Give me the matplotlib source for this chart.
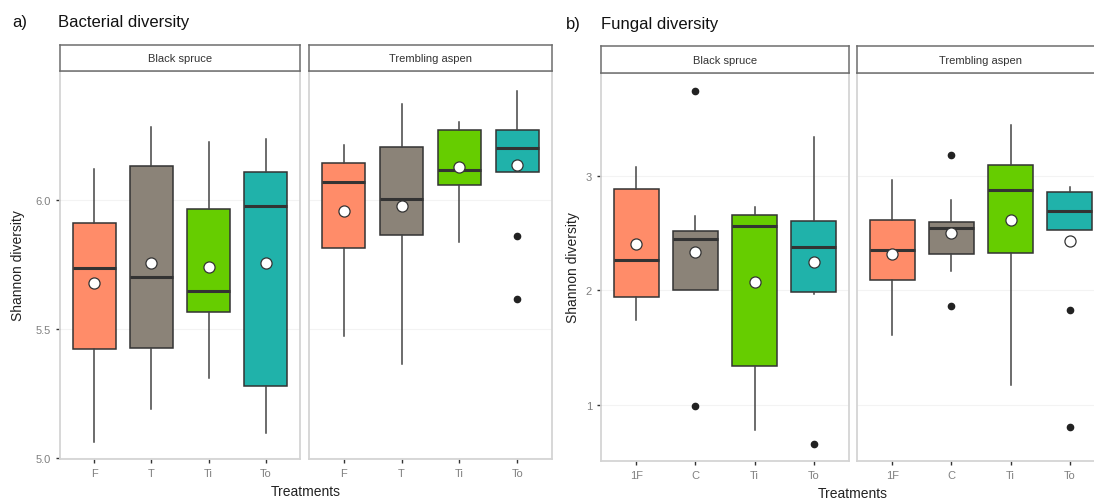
import matplotlib
matplotlib.use('Agg')
import matplotlib.pyplot as plt

plt.rcParams['font.family'] = ['Liberation Sans', 'DejaVu Sans']

# ---- data ----
treat_a = ['F', 'T', 'Ti', 'To']
treat_b = ['1F', 'C', 'Ti', 'To']
colors = ['#FF8C69', '#8B8378', '#66CD00', '#20B2AA']

bact_spruce_whislo = [5.065, 5.19, 5.31, 5.10]
bact_spruce_q1 = [5.423, 5.427, 5.565, 5.281]
bact_spruce_med = [5.738, 5.70, 5.646, 5.977]
bact_spruce_q3 = [5.91, 6.131, 5.965, 6.108]
bact_spruce_whishi = [6.119, 6.281, 6.223, 6.235]
bact_spruce_mean = [5.677, 5.757, 5.742, 5.754]
bact_spruce_out = [[], [], [], []]

bact_aspen_whislo = [5.473, 5.365, 5.838, 6.108]
bact_aspen_q1 = [5.815, 5.865, 6.058, 6.108]
bact_aspen_med = [6.069, 6.004, 6.115, 6.20]
bact_aspen_q3 = [6.142, 6.204, 6.27, 6.27]
bact_aspen_whishi = [6.212, 6.369, 6.30, 6.42]
bact_aspen_mean = [5.958, 5.977, 6.127, 6.135]
bact_aspen_out = [[], [], [], [5.862, 5.615]]

fung_spruce_whislo = [1.745, 2.0, 0.78, 1.97]
fung_spruce_q1 = [1.945, 2.0, 1.34, 1.99]
fung_spruce_med = [2.262, 2.45, 2.56, 2.38]
fung_spruce_q3 = [2.886, 2.52, 2.66, 2.61]
fung_spruce_whishi = [3.08, 2.65, 2.73, 3.34]
fung_spruce_mean = [2.41, 2.34, 2.07, 2.25]
fung_spruce_out = [[], [3.74, 0.99], [], [0.66]]

fung_aspen_whislo = [1.61, 2.17, 1.17, 2.53]
fung_aspen_q1 = [2.09, 2.316, 2.33, 2.53]
fung_aspen_med = [2.35, 2.55, 2.88, 2.69]
fung_aspen_q3 = [2.616, 2.60, 3.10, 2.86]
fung_aspen_whishi = [2.965, 2.79, 3.45, 2.90]
fung_aspen_mean = [2.32, 2.50, 2.62, 2.43]
fung_aspen_out = [[], [3.18, 1.86], [], [1.83, 0.81]]

W, H = 1094, 502
fig = plt.figure(figsize=(W / 100, H / 100), dpi=100)


def rect(x0, x1, y0, y1):
    # pixel box (top-left origin) -> figure fraction
    return [x0 / W, 1 - y1 / H, (x1 - x0) / W, (y1 - y0) / H]


def make_stats(labels, whislo, q1, med, q3, whishi, mean, out):
    stats = []
    for i in range(len(labels)):
        stats.append(dict(label=labels[i], whislo=whislo[i], q1=q1[i], med=med[i],
                          q3=q3[i], whishi=whishi[i], mean=mean[i], fliers=out[i]))
    return stats


def draw_panel(box, strip_box, stats, strip_label, ylim, yticks, yfmt, show_y):
    ax = fig.add_axes(rect(*box))
    bp = ax.bxp(stats, positions=[1, 2, 3, 4], widths=0.75, patch_artist=True,
                showmeans=True, showcaps=False,
                boxprops=dict(edgecolor='#333333', linewidth=1.1),
                whiskerprops=dict(color='#444444', linewidth=1.1),
                medianprops=dict(color='#333333', linewidth=2.2),
                flierprops=dict(marker='o', markerfacecolor='#222222',
                                markeredgecolor='#222222', markersize=4.5),
                meanprops=dict(marker='o', markerfacecolor='white',
                               markeredgecolor='#333333', markersize=8,
                               markeredgewidth=0.9))
    for patch, c in zip(bp['boxes'], colors):
        patch.set_facecolor(c)
    ax.set_xlim(0.4, 4.6)
    ax.set_ylim(*ylim)
    ax.set_yticks(yticks)
    for s in ax.spines.values():
        s.set_color('#d4d4d4')
        s.set_linewidth(1.3)
    ax.tick_params(axis='both', colors='#333333', labelcolor='#808080',
                   labelsize=8, length=3, width=1)
    if show_y:
        ax.set_yticklabels([yfmt.format(v) for v in yticks])
    else:
        ax.tick_params(axis='y', left=False, labelleft=False)
    ax.yaxis.grid(True, color='#f3f3f3', linewidth=0.8)
    ax.set_axisbelow(True)

    sax = fig.add_axes(rect(*strip_box))
    sax.set_xticks([])
    sax.set_yticks([])
    for s in sax.spines.values():
        s.set_color('#6e6e6e')
        s.set_linewidth(1.1)
    sax.text(0.5, 0.5, strip_label, ha='center', va='center', fontsize=8,
             color='#333333', transform=sax.transAxes)
    return ax


a_spruce = make_stats(treat_a, bact_spruce_whislo, bact_spruce_q1, bact_spruce_med,
                      bact_spruce_q3, bact_spruce_whishi, bact_spruce_mean, bact_spruce_out)
a_aspen = make_stats(treat_a, bact_aspen_whislo, bact_aspen_q1, bact_aspen_med,
                     bact_aspen_q3, bact_aspen_whishi, bact_aspen_mean, bact_aspen_out)
b_spruce = make_stats(treat_b, fung_spruce_whislo, fung_spruce_q1, fung_spruce_med,
                      fung_spruce_q3, fung_spruce_whishi, fung_spruce_mean, fung_spruce_out)
b_aspen = make_stats(treat_b, fung_aspen_whislo, fung_aspen_q1, fung_aspen_med,
                     fung_aspen_q3, fung_aspen_whishi, fung_aspen_mean, fung_aspen_out)

ylim_a = (4.998, 6.498)
ylim_b = (0.51, 3.90)

draw_panel((60, 300, 72, 460), (60, 300, 46, 72), a_spruce, 'Black spruce',
           ylim_a, [5.0, 5.5, 6.0], '{:.1f}', True)
draw_panel((309, 552, 72, 460), (309, 552, 46, 72), a_aspen, 'Trembling aspen',
           ylim_a, [5.0, 5.5, 6.0], '{:.1f}', False)
draw_panel((601, 849, 74, 462), (601, 849, 47, 74), b_spruce, 'Black spruce',
           ylim_b, [1, 2, 3], '{:d}', True)
draw_panel((857, 1105, 74, 462), (857, 1105, 47, 74), b_aspen, 'Trembling aspen',
           ylim_b, [1, 2, 3], '{:d}', False)

# titles and axis titles
fig.text(12 / W, 1 - 22 / H, 'a)', fontsize=12, va='center', color='#111111')
fig.text(58 / W, 1 - 22 / H, 'Bacterial diversity', fontsize=12, va='center', color='#111111')
fig.text(566 / W, 1 - 24 / H, 'b)', fontsize=12, va='center', color='#111111')
fig.text(601 / W, 1 - 24 / H, 'Fungal diversity', fontsize=12, va='center', color='#111111')

fig.text(18 / W, 1 - 266 / H, 'Shannon diversity', rotation=90, fontsize=10,
         ha='center', va='center', color='#222222')
fig.text(573 / W, 1 - 268 / H, 'Shannon diversity', rotation=90, fontsize=10,
         ha='center', va='center', color='#222222')
fig.text(306 / W, 1 - 492 / H, 'Treatments', fontsize=10, ha='center', va='center',
         color='#222222')
fig.text(853 / W, 1 - 494 / H, 'Treatments', fontsize=10, ha='center', va='center',
         color='#222222')

fig.savefig('out.png', dpi=100)
